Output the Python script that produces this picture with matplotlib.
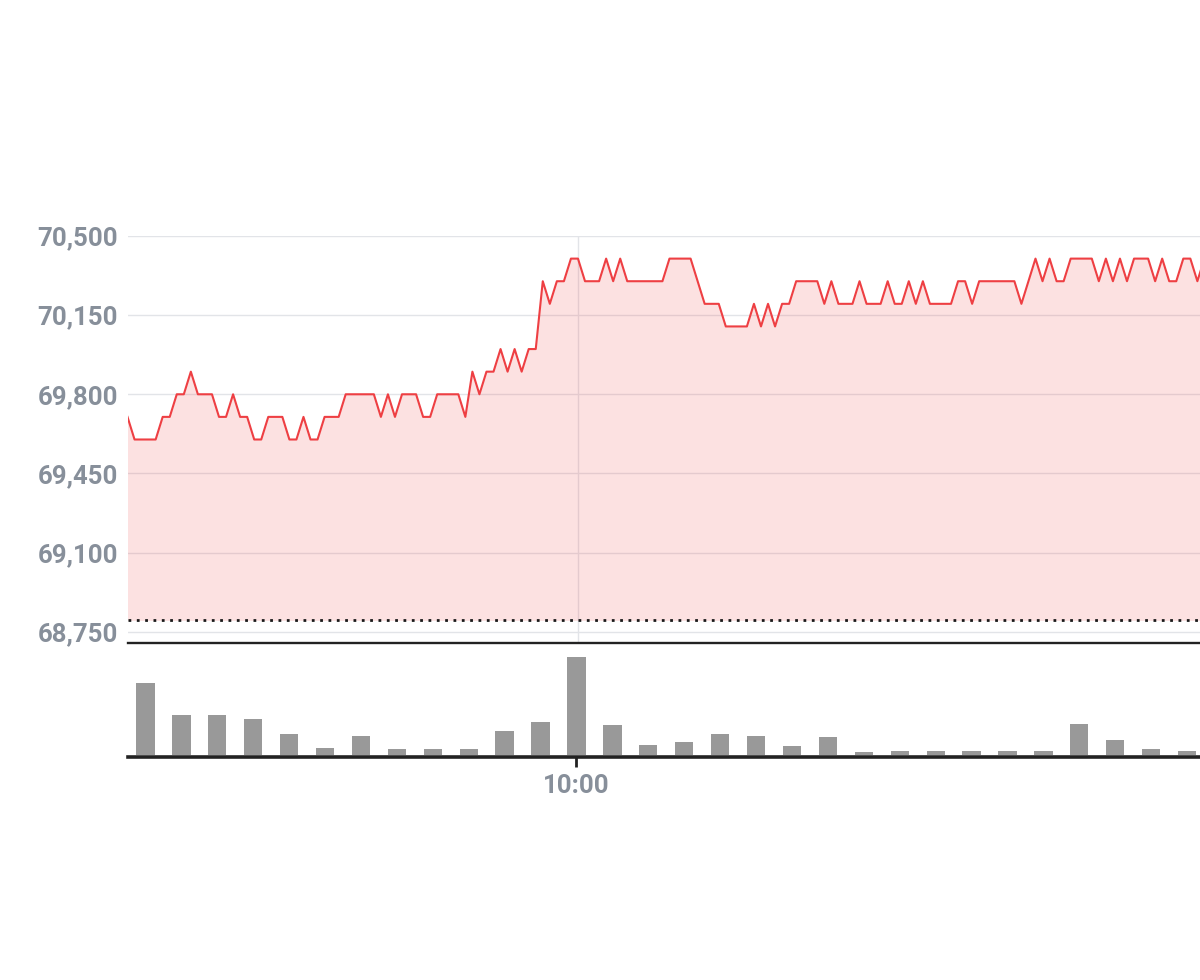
import matplotlib
matplotlib.use("Agg")
import matplotlib.pyplot as plt
import numpy as np

# ---- data ----
prices = [
    69700, 69600, 69600, 69600, 69600, 69700, 69700, 69800, 69800, 69900,
    69800, 69800, 69800, 69700, 69700, 69800, 69700, 69700, 69600, 69600,
    69700, 69700, 69700, 69600, 69600, 69700, 69600, 69600, 69700, 69700,
    69700, 69800, 69800, 69800, 69800, 69800, 69700, 69800, 69700, 69800,
    69800, 69800, 69700, 69700, 69800, 69800, 69800, 69800, 69700, 69900,
    69800, 69900, 69900, 70000, 69900, 70000, 69900, 70000, 70000, 70300,
    70200, 70300, 70300, 70400, 70400, 70300, 70300, 70300, 70400, 70300,
    70400, 70300, 70300, 70300, 70300, 70300, 70300, 70400, 70400, 70400,
    70400, 70300, 70200, 70200, 70200, 70100, 70100, 70100, 70100, 70200,
    70100, 70200, 70100, 70200, 70200, 70300, 70300, 70300, 70300, 70200,
    70300, 70200, 70200, 70200, 70300, 70200, 70200, 70200, 70300, 70200,
    70200, 70300, 70200, 70300, 70200, 70200, 70200, 70200, 70300, 70300,
    70200, 70300, 70300, 70300, 70300, 70300, 70300, 70200, 70300, 70400,
    70300, 70400, 70300, 70300, 70400, 70400, 70400, 70400, 70300, 70400,
    70300, 70400, 70300, 70400, 70400, 70400, 70300, 70400, 70300, 70300,
    70400, 70400, 70300, 70400,
]
price_ten_oclock_index = 64          # index of the 10:00 sample in the price series
reference_price = 68800              # dotted baseline (previous close)

volume_times = ["09:00", "09:05", "09:10", "09:15", "09:20", "09:25", "09:30",
                "09:35", "09:40", "09:45", "09:50", "09:55", "10:00", "10:05",
                "10:10", "10:15", "10:20", "10:25", "10:30", "10:35", "10:40",
                "10:45", "10:50", "10:55", "11:00", "11:05", "11:10", "11:15",
                "11:20", "11:25"]
volumes = [72, 40, 40, 36, 21, 7, 19, 6, 6, 6, 24, 33, 98, 30, 10,
           13, 21, 19, 9, 18, 3, 4, 4, 4, 4, 4, 31, 15, 6, 4]

y_ticks = [68750, 69100, 69450, 69800, 70150, 70500]
x_tick_label = "10:00"

# ---- style ----
LINE_RED = "#ee3f43"
TICK_GREY = "#878f9a"
GRID = "#e2e4e8"
font = dict(family=["Roboto", "DejaVu Sans"], fontsize=18.5, fontweight="bold",
            color=TICK_GREY)

fig = plt.figure(figsize=(12, 9.8), dpi=100)
W, H = 1200, 980
left = 127.5 / W

# price panel
ax = fig.add_axes([left, 1 - 643 / H, 1 - left, (643 - 236) / H])
x = np.arange(len(prices))
ax.plot(x, prices, color=LINE_RED, lw=1.5, zorder=3)
ax.fill_between(x, prices, reference_price, color="#f04848", alpha=0.16,
                linewidth=0, zorder=2)
ax.axhline(reference_price, color="#1a1a1a", lw=2.0, linestyle=(0, (1.0, 2.0)),
           zorder=4)
ax.set_xlim(0, (W - 127.3) / 7.04)
ax.set_ylim(68700, 70500)
ax.set_yticks(y_ticks)
ax.set_yticklabels([f"{v:,}" for v in y_ticks], **font)
ax.set_xticks([price_ten_oclock_index])
ax.tick_params(axis="x", length=0, labelbottom=False)
ax.tick_params(axis="y", length=0, pad=7)
ax.grid(True, color=GRID, lw=1.0)
ax.set_axisbelow(True)
for s in ax.spines.values():
    s.set_visible(False)
ax.patch.set_alpha(0)

# volume panel
axv = fig.add_axes([left, 1 - 757 / H, 1 - left, (757 - 643) / H])
bx = np.arange(len(volumes))
axv.bar(bx, volumes, width=0.51, color="#999999", zorder=2)
axv.set_xlim(-0.5, (W - 146) / 35.9)
axv.set_ylim(-2, 112)
axv.set_yticks([])
tick_pos = volume_times.index(x_tick_label)
axv.set_xticks([tick_pos])
axv.set_xticklabels([x_tick_label], **font)
axv.tick_params(axis="x", length=7, width=2.0, color="#222222", pad=5)
for side in ["left", "right"]:
    axv.spines[side].set_visible(False)
axv.spines["top"].set_color("#222222")
axv.spines["top"].set_linewidth(1.7)
axv.spines["bottom"].set_color("#222222")
axv.spines["bottom"].set_linewidth(2.6)
axv.spines["bottom"].set_zorder(3)
axv.patch.set_alpha(0)

fig.savefig("out.png", dpi=100)
